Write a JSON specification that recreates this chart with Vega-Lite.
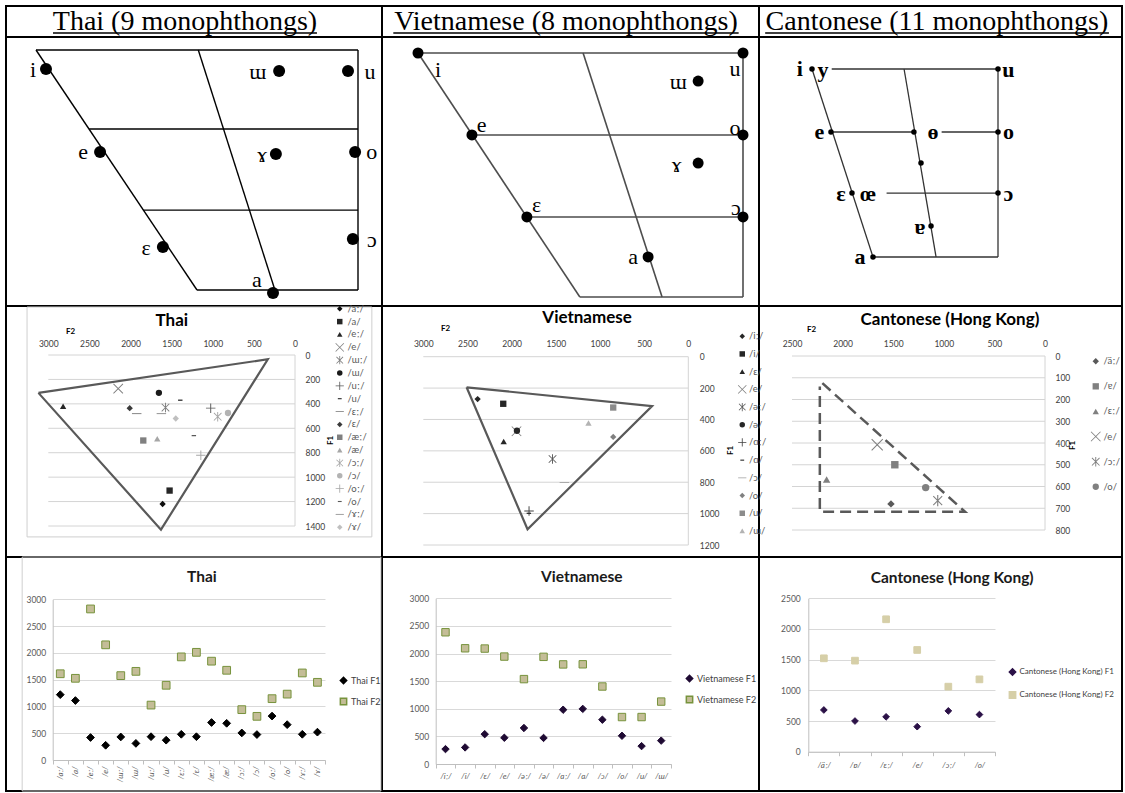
{
  "$schema": "https://vega.github.io/schema/vega-lite/v6.json",
  "width": 1125,
  "height": 793,
  "autosize": "none",
  "padding": 0,
  "background": "white",
  "config": {
    "view": {"stroke": null},
    "axis": {"labelFont": "Lato, Noto Sans, sans-serif", "titleFont": "Lato, Noto Sans, sans-serif"},
    "legend": {"labelFont": "Lato, Noto Sans, sans-serif"}
  },
  "datasets": {
    "rules": [
      {"x0": 0, "x1": 0, "y0": 0, "y1": 4},
      {"x0": 1, "x1": 1, "y0": 0, "y1": 4},
      {"x0": 2, "x1": 2, "y0": 0, "y1": 4},
      {"x0": 3, "x1": 3, "y0": 0, "y1": 4},
      {"x0": 0, "x1": 3, "y0": 0, "y1": 0},
      {"x0": 0, "x1": 3, "y0": 1, "y1": 1},
      {"x0": 0, "x1": 3, "y0": 2, "y1": 2},
      {"x0": 0, "x1": 3, "y0": 3, "y1": 3},
      {"x0": 0, "x1": 3, "y0": 4, "y1": 4}
    ],
    "frames": [
      {"x0": 0.056, "x1": 0.973, "y0": 2.004, "y1": 2.92},
      {"x0": 0.043, "x1": 0.997, "y0": 3.0, "y1": 4.0}
    ],
    "heads": [
      {"t": "Thai (9 monophthongs)", "c": 0.476, "r": 0.774, "u0": 0.125, "u1": 0.827, "ru": 0.871},
      {"t": "Vietnamese (8 monophthongs)", "c": 1.488, "r": 0.774, "u0": 1.03, "u1": 1.946, "ru": 0.871},
      {"t": "Cantonese (11 monophthongs)", "c": 2.49, "r": 0.774, "u0": 2.017, "u1": 2.964, "ru": 0.871}
    ],
    "captions": [
      {"t": "Thai", "c": 0.441, "r": 2.06, "k": "a"},
      {"t": "Vietnamese", "c": 1.544, "r": 2.048, "k": "a"},
      {"t": "Cantonese (Hong Kong)", "c": 2.526, "r": 2.056, "k": "a"},
      {"t": "Thai", "c": 0.521, "r": 3.085, "k": "b"},
      {"t": "Vietnamese", "c": 1.53, "r": 3.085, "k": "b"},
      {"t": "Cantonese (Hong Kong)", "c": 2.532, "r": 3.09, "k": "b"}
    ],
    "thaiLines": [
      {"x0": 0, "y0": 0, "x1": 100, "y1": 0},
      {"x0": 100, "y0": 0, "x1": 100, "y1": 100},
      {"x0": 50, "y0": 100, "x1": 100, "y1": 100},
      {"x0": 0, "y0": 0, "x1": 50, "y1": 100},
      {"x0": 50.4, "y0": 0, "x1": 74.2, "y1": 100},
      {"x0": 16.5, "y0": 32.9, "x1": 100, "y1": 32.9},
      {"x0": 33.3, "y0": 66.7, "x1": 100, "y1": 66.7}
    ],
    "thaiV": [
      {"v": "i", "x": 3.1, "y": 7.9, "lx": -0.9, "ly": 8.3},
      {"v": "ɯ", "x": 75.5, "y": 8.75, "lx": 68.9, "ly": 9.2},
      {"v": "u", "x": 96.9, "y": 8.75, "lx": 103.7, "ly": 9.2},
      {"v": "e", "x": 19.9, "y": 42.5, "lx": 14.6, "ly": 42.5},
      {"v": "ɤ", "x": 74.5, "y": 43.3, "lx": 70.2, "ly": 43.75},
      {"v": "o", "x": 99.1, "y": 42.5, "lx": 104.3, "ly": 42.5},
      {"v": "ɛ", "x": 39.4, "y": 82.1, "lx": 34.2, "ly": 82.5},
      {"v": "ɔ", "x": 98.4, "y": 78.75, "lx": 104.3, "ly": 79.2},
      {"v": "a", "x": 73.6, "y": 101.25, "lx": 68.6, "ly": 95.8}
    ],
    "vietLines": [
      {"x0": 0, "y0": 0, "x1": 100, "y1": 0},
      {"x0": 100, "y0": 0, "x1": 100, "y1": 100},
      {"x0": 49.8, "y0": 100, "x1": 100, "y1": 100},
      {"x0": 0, "y0": 0, "x1": 49.8, "y1": 100},
      {"x0": 50.8, "y0": 0, "x1": 75.1, "y1": 100},
      {"x0": 16.6, "y0": 33.6, "x1": 100, "y1": 33.6},
      {"x0": 33.5, "y0": 67.2, "x1": 100, "y1": 67.2}
    ],
    "vietV": [
      {"v": "i", "x": 0, "y": 0, "lx": 6.2, "ly": 7.0},
      {"v": "u", "x": 100, "y": 0, "lx": 97.5, "ly": 6.6},
      {"v": "ɯ", "x": 86.2, "y": 11.5, "lx": 80.1, "ly": 11.8},
      {"v": "e", "x": 16.6, "y": 33.6, "lx": 19.6, "ly": 29.5},
      {"v": "o", "x": 100, "y": 33.6, "lx": 97.5, "ly": 30.7},
      {"v": "ɤ", "x": 86.2, "y": 45.1, "lx": 79.6, "ly": 45.9},
      {"v": "ɛ", "x": 33.5, "y": 67.2, "lx": 36.5, "ly": 62.3},
      {"v": "ɔ", "x": 100, "y": 67.2, "lx": 97.8, "ly": 63.5},
      {"v": "a", "x": 70.8, "y": 83.6, "lx": 66.2, "ly": 83.7}
    ],
    "cantLines": [
      {"x0": 10.6, "y0": 0, "x1": 100, "y1": 0},
      {"x0": 100, "y0": 0, "x1": 100, "y1": 100},
      {"x0": 32.8, "y0": 100, "x1": 100, "y1": 100},
      {"x0": 0, "y0": 0, "x1": 32.8, "y1": 100},
      {"x0": 49.5, "y0": 0, "x1": 66.7, "y1": 100},
      {"x0": 10.2, "y0": 33.5, "x1": 54.8, "y1": 33.5},
      {"x0": 69.7, "y0": 33.5, "x1": 100, "y1": 33.5},
      {"x0": 40.1, "y0": 66, "x1": 100, "y1": 66}
    ],
    "cantV": [
      {"v": "i", "x": 0, "y": 0, "lx": -6.5, "ly": 0},
      {"v": "y", "x": null, "y": null, "lx": 5.9, "ly": 0.5},
      {"v": "u", "x": 100, "y": 0, "lx": 105.6, "ly": 0.5},
      {"v": "e", "x": 10.2, "y": 33.5, "lx": 3.9, "ly": 33.5},
      {"v": "ɵ", "x": 54.8, "y": 33.5, "lx": 65, "ly": 33.5},
      {"v": "o", "x": 100, "y": 33.5, "lx": 105.6, "ly": 33.5},
      {"v": "", "x": 58.6, "y": 50, "lx": 58.6, "ly": 50},
      {"v": "ɛ", "x": 21.5, "y": 66, "lx": 15.6, "ly": 66.5},
      {"v": "œ", "x": null, "y": null, "lx": 30.1, "ly": 66.5},
      {"v": "ɔ", "x": 100, "y": 66, "lx": 105.6, "ly": 66.5},
      {"v": "ɐ", "x": 64, "y": 83.5, "lx": 58.1, "ly": 84},
      {"v": "a", "x": 32.8, "y": 100, "lx": 25.8, "ly": 100}
    ],
    "thai": [
      {"v": "/aː/", "F1": 1220, "F2": 1610},
      {"v": "/a/", "F1": 1110, "F2": 1525},
      {"v": "/eː/", "F1": 420, "F2": 2820},
      {"v": "/e/", "F1": 275, "F2": 2150},
      {"v": "/ɯː/", "F1": 430, "F2": 1575},
      {"v": "/ɯ/", "F1": 310, "F2": 1655},
      {"v": "/uː/", "F1": 435, "F2": 1025},
      {"v": "/u/", "F1": 370, "F2": 1395},
      {"v": "/ɛː/", "F1": 480, "F2": 1925},
      {"v": "/ɛ/", "F1": 435, "F2": 2010},
      {"v": "/æː/", "F1": 700, "F2": 1845},
      {"v": "/æ/", "F1": 685, "F2": 1675},
      {"v": "/ɔː/", "F1": 505, "F2": 940},
      {"v": "/ɔ/", "F1": 475, "F2": 815},
      {"v": "/oː/", "F1": 820, "F2": 1145},
      {"v": "/o/", "F1": 660, "F2": 1230},
      {"v": "/ɤː/", "F1": 480, "F2": 1625},
      {"v": "/ɤ/", "F1": 520, "F2": 1450}
    ],
    "viet": [
      {"v": "/iː/", "F1": 270, "F2": 2385},
      {"v": "/i/", "F1": 300, "F2": 2095},
      {"v": "/ɛ/", "F1": 540, "F2": 2090},
      {"v": "/e/", "F1": 475, "F2": 1945},
      {"v": "/əː/", "F1": 652, "F2": 1537},
      {"v": "/ə/", "F1": 472, "F2": 1940},
      {"v": "/ɑː/", "F1": 983, "F2": 1803},
      {"v": "/ɑ/", "F1": 998, "F2": 1805},
      {"v": "/ɔ/", "F1": 802, "F2": 1403},
      {"v": "/o/", "F1": 511, "F2": 850},
      {"v": "/u/", "F1": 324, "F2": 850},
      {"v": "/ɯ/", "F1": 423, "F2": 1130}
    ],
    "cant": [
      {"v": "/äː/", "F1": 680, "F2": 1522},
      {"v": "/ɐ/", "F1": 500, "F2": 1484},
      {"v": "/ɛː/", "F1": 568, "F2": 2158},
      {"v": "/e/", "F1": 408, "F2": 1658},
      {"v": "/ɔː/", "F1": 665, "F2": 1060},
      {"v": "/o/", "F1": 605, "F2": 1179}
    ],
    "thaiTri": [
      {"i": 0, "F2": 3120, "F1": 310},
      {"i": 1, "F2": 330, "F1": 35},
      {"i": 2, "F2": 1630, "F1": 1430},
      {"i": 3, "F2": 3120, "F1": 310}
    ],
    "vietTri": [
      {"i": 0, "F2": 2510, "F1": 195},
      {"i": 1, "F2": 410, "F1": 315},
      {"i": 2, "F2": 1820, "F1": 1100},
      {"i": 3, "F2": 2510, "F1": 195}
    ],
    "cantTri": [
      {"i": 0, "F2": 2200, "F1": 125},
      {"i": 1, "F2": 790, "F1": 716},
      {"i": 2, "F2": 2225, "F1": 716},
      {"i": 3, "F2": 2225, "F1": 140}
    ],
    "thaiGrid": [
      {"f2a": 3000, "f2b": 0, "f1a": 0, "f1b": 0},
      {"f2a": 3000, "f2b": 0, "f1a": 200, "f1b": 200},
      {"f2a": 3000, "f2b": 0, "f1a": 400, "f1b": 400},
      {"f2a": 3000, "f2b": 0, "f1a": 600, "f1b": 600},
      {"f2a": 3000, "f2b": 0, "f1a": 800, "f1b": 800},
      {"f2a": 3000, "f2b": 0, "f1a": 1000, "f1b": 1000},
      {"f2a": 3000, "f2b": 0, "f1a": 1200, "f1b": 1200},
      {"f2a": 3000, "f2b": 0, "f1a": 1400, "f1b": 1400},
      {"f2a": 0, "f2b": 0, "f1a": 0, "f1b": 1400}
    ],
    "vietGrid": [
      {"f2a": 3000, "f2b": 0, "f1a": 0, "f1b": 0},
      {"f2a": 3000, "f2b": 0, "f1a": 200, "f1b": 200},
      {"f2a": 3000, "f2b": 0, "f1a": 400, "f1b": 400},
      {"f2a": 3000, "f2b": 0, "f1a": 600, "f1b": 600},
      {"f2a": 3000, "f2b": 0, "f1a": 800, "f1b": 800},
      {"f2a": 3000, "f2b": 0, "f1a": 1000, "f1b": 1000},
      {"f2a": 3000, "f2b": 0, "f1a": 1200, "f1b": 1200},
      {"f2a": 0, "f2b": 0, "f1a": 0, "f1b": 1200}
    ],
    "cantGrid": [
      {"f2a": 2500, "f2b": 0, "f1a": 0, "f1b": 0},
      {"f2a": 2500, "f2b": 0, "f1a": 100, "f1b": 100},
      {"f2a": 2500, "f2b": 0, "f1a": 200, "f1b": 200},
      {"f2a": 2500, "f2b": 0, "f1a": 300, "f1b": 300},
      {"f2a": 2500, "f2b": 0, "f1a": 400, "f1b": 400},
      {"f2a": 2500, "f2b": 0, "f1a": 500, "f1b": 500},
      {"f2a": 2500, "f2b": 0, "f1a": 600, "f1b": 600},
      {"f2a": 2500, "f2b": 0, "f1a": 700, "f1b": 700},
      {"f2a": 2500, "f2b": 0, "f1a": 800, "f1b": 800},
      {"f2a": 0, "f2b": 0, "f1a": 0, "f1b": 800}
    ]
  },
  "layer": [
    {
      "data": {"name": "rules"},
      "mark": {"type": "rule", "stroke": "#000000", "strokeWidth": 2, "strokeCap": "square"},
      "encoding": {
        "x": {"field": "x0", "type": "quantitative", "scale": {"domain": [0, 1, 2, 3], "range": [6, 382, 759, 1122], "nice": false, "zero": false}, "axis": null},
        "x2": {"field": "x1"},
        "y": {"field": "y0", "type": "quantitative", "scale": {"domain": [0, 1, 2, 3, 4], "range": [6, 37, 306, 557, 791], "nice": false, "zero": false}, "axis": null},
        "y2": {"field": "y1"}
      }
    },
    {
      "data": {"name": "frames"},
      "mark": {"type": "rect", "fill": null, "fillOpacity": 0, "stroke": "#cfcfcf", "strokeWidth": 1},
      "encoding": {
        "x": {"field": "x0", "type": "quantitative", "scale": {"domain": [0, 1, 2, 3], "range": [6, 382, 759, 1122], "nice": false, "zero": false}, "axis": null},
        "x2": {"field": "x1"},
        "y": {"field": "y0", "type": "quantitative", "scale": {"domain": [0, 1, 2, 3, 4], "range": [6, 37, 306, 557, 791], "nice": false, "zero": false}, "axis": null},
        "y2": {"field": "y1"}
      }
    },
    {
      "data": {"name": "heads"},
      "mark": {"type": "text", "font": "Liberation Serif, DejaVu Serif, serif", "fontSize": 28, "align": "center", "baseline": "alphabetic", "color": "#000000"},
      "encoding": {
        "x": {"field": "c", "type": "quantitative", "scale": {"domain": [0, 1, 2, 3], "range": [6, 382, 759, 1122], "nice": false, "zero": false}, "axis": null},
        "y": {"field": "r", "type": "quantitative", "scale": {"domain": [0, 1, 2, 3, 4], "range": [6, 37, 306, 557, 791], "nice": false, "zero": false}, "axis": null},
        "text": {"field": "t"}
      }
    },
    {
      "data": {"name": "heads"},
      "mark": {"type": "rule", "stroke": "#000000", "strokeWidth": 1.3},
      "encoding": {
        "x": {"field": "u0", "type": "quantitative", "scale": {"domain": [0, 1, 2, 3], "range": [6, 382, 759, 1122], "nice": false, "zero": false}, "axis": null},
        "x2": {"field": "u1"},
        "y": {"field": "ru", "type": "quantitative", "scale": {"domain": [0, 1, 2, 3, 4], "range": [6, 37, 306, 557, 791], "nice": false, "zero": false}, "axis": null}
      }
    },
    {
      "data": {"name": "captions"},
      "transform": [{"filter": "datum.k == 'a'"}],
      "mark": {"type": "text", "font": "Lato, Noto Sans, sans-serif", "fontSize": 17, "fontWeight": "bold", "color": "#000000", "baseline": "middle", "align": "center"},
      "encoding": {
        "x": {"field": "c", "type": "quantitative", "scale": {"domain": [0, 1, 2, 3], "range": [6, 382, 759, 1122], "nice": false, "zero": false}, "axis": null},
        "y": {"field": "r", "type": "quantitative", "scale": {"domain": [0, 1, 2, 3, 4], "range": [6, 37, 306, 557, 791], "nice": false, "zero": false}, "axis": null},
        "text": {"field": "t"}
      }
    },
    {
      "data": {"name": "captions"},
      "transform": [{"filter": "datum.k == 'b'"}],
      "mark": {"type": "text", "font": "Lato, Noto Sans, sans-serif", "fontSize": 15.5, "fontWeight": "bold", "color": "#1a1a1a", "baseline": "middle", "align": "center"},
      "encoding": {
        "x": {"field": "c", "type": "quantitative", "scale": {"domain": [0, 1, 2, 3], "range": [6, 382, 759, 1122], "nice": false, "zero": false}, "axis": null},
        "y": {"field": "r", "type": "quantitative", "scale": {"domain": [0, 1, 2, 3, 4], "range": [6, 37, 306, 557, 791], "nice": false, "zero": false}, "axis": null},
        "text": {"field": "t"}
      }
    },
    {
      "data": {"name": "thaiLines"},
      "mark": {"type": "rule", "stroke": "#000000", "strokeWidth": 1.4},
      "encoding": {
        "x": {"field": "x0", "type": "quantitative", "scale": {"domain": [0, 100], "range": [36, 358], "nice": false, "zero": false}, "axis": null},
        "x2": {"field": "x1"},
        "y": {"field": "y0", "type": "quantitative", "scale": {"domain": [0, 100], "range": [50, 290], "nice": false, "zero": false}, "axis": null},
        "y2": {"field": "y1"}
      }
    },
    {
      "data": {"name": "thaiV"},
      "mark": {"type": "circle", "color": "#000000", "opacity": 1, "size": 144},
      "encoding": {
        "x": {"field": "x", "type": "quantitative", "scale": {"domain": [0, 100], "range": [36, 358], "nice": false, "zero": false}, "axis": null},
        "y": {"field": "y", "type": "quantitative", "scale": {"domain": [0, 100], "range": [50, 290], "nice": false, "zero": false}, "axis": null}
      }
    },
    {
      "data": {"name": "thaiV"},
      "mark": {"type": "text", "font": "Liberation Serif, DejaVu Serif, serif", "fontSize": 22, "align": "center", "baseline": "middle", "color": "#000000"},
      "encoding": {
        "x": {"field": "lx", "type": "quantitative", "scale": {"domain": [0, 100], "range": [36, 358], "nice": false, "zero": false}, "axis": null},
        "y": {"field": "ly", "type": "quantitative", "scale": {"domain": [0, 100], "range": [50, 290], "nice": false, "zero": false}, "axis": null},
        "text": {"field": "v"}
      }
    },
    {
      "data": {"name": "vietLines"},
      "mark": {"type": "rule", "stroke": "#4d4d4d", "strokeWidth": 1.6},
      "encoding": {
        "x": {"field": "x0", "type": "quantitative", "scale": {"domain": [0, 100], "range": [418, 743], "nice": false, "zero": false}, "axis": null},
        "x2": {"field": "x1"},
        "y": {"field": "y0", "type": "quantitative", "scale": {"domain": [0, 100], "range": [53, 297], "nice": false, "zero": false}, "axis": null},
        "y2": {"field": "y1"}
      }
    },
    {
      "data": {"name": "vietV"},
      "mark": {"type": "circle", "color": "#000000", "opacity": 1, "size": 121},
      "encoding": {
        "x": {"field": "x", "type": "quantitative", "scale": {"domain": [0, 100], "range": [418, 743], "nice": false, "zero": false}, "axis": null},
        "y": {"field": "y", "type": "quantitative", "scale": {"domain": [0, 100], "range": [53, 297], "nice": false, "zero": false}, "axis": null}
      }
    },
    {
      "data": {"name": "vietV"},
      "mark": {"type": "text", "font": "Liberation Serif, DejaVu Serif, serif", "fontSize": 22, "align": "center", "baseline": "middle", "color": "#000000"},
      "encoding": {
        "x": {"field": "lx", "type": "quantitative", "scale": {"domain": [0, 100], "range": [418, 743], "nice": false, "zero": false}, "axis": null},
        "y": {"field": "ly", "type": "quantitative", "scale": {"domain": [0, 100], "range": [53, 297], "nice": false, "zero": false}, "axis": null},
        "text": {"field": "v"}
      }
    },
    {
      "data": {"name": "cantLines"},
      "mark": {"type": "rule", "stroke": "#333333", "strokeWidth": 1.3},
      "encoding": {
        "x": {"field": "x0", "type": "quantitative", "scale": {"domain": [0, 100], "range": [812, 998], "nice": false, "zero": false}, "axis": null},
        "x2": {"field": "x1"},
        "y": {"field": "y0", "type": "quantitative", "scale": {"domain": [0, 100], "range": [69, 257], "nice": false, "zero": false}, "axis": null},
        "y2": {"field": "y1"}
      }
    },
    {
      "data": {"name": "cantV"},
      "mark": {"type": "circle", "color": "#000000", "opacity": 1, "size": 30},
      "encoding": {
        "x": {"field": "x", "type": "quantitative", "scale": {"domain": [0, 100], "range": [812, 998], "nice": false, "zero": false}, "axis": null},
        "y": {"field": "y", "type": "quantitative", "scale": {"domain": [0, 100], "range": [69, 257], "nice": false, "zero": false}, "axis": null}
      }
    },
    {
      "data": {"name": "cantV"},
      "mark": {"type": "text", "font": "Liberation Serif, DejaVu Serif, serif", "fontSize": 22, "fontWeight": "bold", "align": "center", "baseline": "middle", "color": "#000000"},
      "encoding": {
        "x": {"field": "lx", "type": "quantitative", "scale": {"domain": [0, 100], "range": [812, 998], "nice": false, "zero": false}, "axis": null},
        "y": {"field": "ly", "type": "quantitative", "scale": {"domain": [0, 100], "range": [69, 257], "nice": false, "zero": false}, "axis": null},
        "text": {"field": "v"}
      }
    },
    {
      "data": {"name": "thaiGrid"},
      "mark": {"type": "rule", "stroke": "#d4d4d4", "strokeWidth": 1},
      "encoding": {
        "x": {"field": "f2a", "type": "quantitative", "scale": {"domain": [0, 3000], "reverse": true, "range": [48.3, 295], "nice": false, "zero": false}, "axis": null},
        "x2": {"field": "f2b"},
        "y": {"field": "f1a", "type": "quantitative", "scale": {"domain": [0, 1400], "range": [355, 526], "nice": false, "zero": false}, "axis": null},
        "y2": {"field": "f1b"}
      }
    },
    {
      "data": {"name": "thaiTri"},
      "mark": {"type": "line", "stroke": "#595959", "strokeWidth": 2.2},
      "encoding": {
        "x": {"field": "F2", "type": "quantitative", "scale": {"domain": [0, 3000], "reverse": true, "range": [48.3, 295], "nice": false, "zero": false},
          "axis": {"orient": "top", "offset": -355, "values": [3000, 2500, 2000, 1500, 1000, 500, 0], "format": "d", "grid": false, "domain": false, "ticks": false, "tickSize": 0, "labelFontSize": 8.5, "labelColor": "#404040", "labelPadding": 7, "labelFlush": false, "labelOverlap": false, "title": "F2", "titleX": 70, "titleY": -24, "titleFontSize": 8, "titleFontWeight": "bold", "titleAlign": "center", "titleBaseline": "middle", "titleAngle": 0, "titleColor": "#000000"}},
        "y": {"field": "F1", "type": "quantitative", "scale": {"domain": [0, 1400], "range": [355, 526], "nice": false, "zero": false},
          "axis": {"orient": "left", "offset": -295, "values": [0, 200, 400, 600, 800, 1000, 1200, 1400], "format": "d", "grid": false, "domain": false, "ticks": false, "tickSize": 0, "labelAlign": "left", "labelBaseline": "middle", "labelPadding": -10, "labelFontSize": 8.5, "labelColor": "#404040", "labelFlush": false, "labelOverlap": false, "title": "F1", "titleX": 35, "titleY": 440, "titleAngle": 270, "titleFontSize": 8, "titleFontWeight": "bold", "titleAlign": "center", "titleBaseline": "middle", "titleColor": "#000000"}},
        "order": {"field": "i", "type": "quantitative"}
      }
    },
    {
      "data": {"name": "thai"},
      "mark": {"type": "point", "filled": true, "opacity": 1, "size": 40},
      "encoding": {
        "x": {"field": "F2", "type": "quantitative", "scale": {"domain": [0, 3000], "reverse": true, "range": [48.3, 295], "nice": false, "zero": false}, "axis": null},
        "y": {"field": "F1", "type": "quantitative", "scale": {"domain": [0, 1400], "range": [355, 526], "nice": false, "zero": false}, "axis": null},
        "color": {"field": "v", "type": "nominal",
          "scale": {"domain": ["/aː/", "/a/", "/eː/", "/e/", "/ɯː/", "/ɯ/", "/uː/", "/u/", "/ɛː/", "/ɛ/", "/æː/", "/æ/", "/ɔː/", "/ɔ/", "/oː/", "/o/", "/ɤː/", "/ɤ/"],
            "range": ["#0d0d0d", "#262626", "#262626", "#7f7f7f", "#7f7f7f", "#1a1a1a", "#595959", "#262626", "#7f7f7f", "#3a3a3a", "#808080", "#a6a6a6", "#a6a6a6", "#b3b3b3", "#a6a6a6", "#595959", "#8c8c8c", "#bfbfbf"]},
          "legend": {"orient": "none", "legendX": 335, "legendY": 304, "title": null, "labelFontSize": 9.5, "labelColor": "#595959", "symbolSize": 30, "rowPadding": 1.85, "padding": 0, "labelOffset": 3}},
        "shape": {"field": "v", "type": "nominal",
          "scale": {"domain": ["/aː/", "/a/", "/eː/", "/e/", "/ɯː/", "/ɯ/", "/uː/", "/u/", "/ɛː/", "/ɛ/", "/æː/", "/æ/", "/ɔː/", "/ɔ/", "/oː/", "/o/", "/ɤː/", "/ɤ/"],
            "range": ["diamond", "square", "triangle-up",
              "M-1.6,-1.4L-1.4,-1.6L1.6,1.4L1.4,1.6Z M1.4,-1.6L1.6,-1.4L-1.4,1.6L-1.6,1.4Z",
              "M-1.3,-1.1L-1.1,-1.3L1.3,1.1L1.1,1.3Z M1.1,-1.3L1.3,-1.1L-1.1,1.3L-1.3,1.1Z M-0.15,-1.5L0.15,-1.5L0.15,1.5L-0.15,1.5Z",
              "circle",
              "M-1.5,-0.15L1.5,-0.15L1.5,0.15L-1.5,0.15Z M-0.15,-1.5L0.15,-1.5L0.15,1.5L-0.15,1.5Z",
              "M-0.7,-0.2L0.7,-0.2L0.7,0.2L-0.7,0.2Z",
              "M-1.5,-0.15L1.5,-0.15L1.5,0.15L-1.5,0.15Z",
              "diamond", "square", "triangle-up",
              "M-1.3,-1.1L-1.1,-1.3L1.3,1.1L1.1,1.3Z M1.1,-1.3L1.3,-1.1L-1.1,1.3L-1.3,1.1Z M-0.15,-1.5L0.15,-1.5L0.15,1.5L-0.15,1.5Z",
              "circle",
              "M-1.5,-0.15L1.5,-0.15L1.5,0.15L-1.5,0.15Z M-0.15,-1.5L0.15,-1.5L0.15,1.5L-0.15,1.5Z",
              "M-0.7,-0.2L0.7,-0.2L0.7,0.2L-0.7,0.2Z",
              "M-1.5,-0.15L1.5,-0.15L1.5,0.15L-1.5,0.15Z",
              "diamond"]},
          "legend": {"orient": "none", "legendX": 335, "legendY": 304, "title": null, "labelFontSize": 9.5, "labelColor": "#595959", "symbolSize": 30, "rowPadding": 1.85, "padding": 0, "labelOffset": 3}}
      }
    },
    {
      "data": {"name": "vietGrid"},
      "mark": {"type": "rule", "stroke": "#d4d4d4", "strokeWidth": 1},
      "encoding": {
        "x": {"field": "f2a", "type": "quantitative", "scale": {"domain": [0, 3000], "reverse": true, "range": [423.3, 688.3], "nice": false, "zero": false}, "axis": null},
        "x2": {"field": "f2b"},
        "y": {"field": "f1a", "type": "quantitative", "scale": {"domain": [0, 1200], "range": [356.7, 545], "nice": false, "zero": false}, "axis": null},
        "y2": {"field": "f1b"}
      }
    },
    {
      "data": {"name": "vietTri"},
      "mark": {"type": "line", "stroke": "#595959", "strokeWidth": 2.2},
      "encoding": {
        "x": {"field": "F2", "type": "quantitative", "scale": {"domain": [0, 3000], "reverse": true, "range": [423.3, 688.3], "nice": false, "zero": false},
          "axis": {"orient": "top", "offset": -356.7, "values": [3000, 2500, 2000, 1500, 1000, 500, 0], "format": "d", "grid": false, "domain": false, "ticks": false, "tickSize": 0, "labelFontSize": 8.5, "labelColor": "#404040", "labelPadding": 8, "labelFlush": false, "labelOverlap": false, "title": "F2", "titleX": 445, "titleY": -28.7, "titleFontSize": 8, "titleFontWeight": "bold", "titleAlign": "center", "titleBaseline": "middle", "titleAngle": 0, "titleColor": "#000000"}},
        "y": {"field": "F1", "type": "quantitative", "scale": {"domain": [0, 1200], "range": [356.7, 545], "nice": false, "zero": false},
          "axis": {"orient": "left", "offset": -688.3, "values": [0, 200, 400, 600, 800, 1000, 1200], "format": "d", "grid": false, "domain": false, "ticks": false, "tickSize": 0, "labelAlign": "left", "labelBaseline": "middle", "labelPadding": -11, "labelFontSize": 8.5, "labelColor": "#404040", "labelFlush": false, "labelOverlap": false, "title": "F1", "titleX": 41.7, "titleY": 450, "titleAngle": 270, "titleFontSize": 8, "titleFontWeight": "bold", "titleAlign": "center", "titleBaseline": "middle", "titleColor": "#000000"}},
        "order": {"field": "i", "type": "quantitative"}
      }
    },
    {
      "data": {"name": "viet"},
      "mark": {"type": "point", "filled": true, "opacity": 1, "size": 40},
      "encoding": {
        "x": {"field": "F2", "type": "quantitative", "scale": {"domain": [0, 3000], "reverse": true, "range": [423.3, 688.3], "nice": false, "zero": false}, "axis": null},
        "y": {"field": "F1", "type": "quantitative", "scale": {"domain": [0, 1200], "range": [356.7, 545], "nice": false, "zero": false}, "axis": null},
        "color": {"field": "v", "type": "nominal",
          "scale": {"domain": ["/iː/", "/i/", "/ɛ/", "/e/", "/əː/", "/ə/", "/ɑː/", "/ɑ/", "/ɔ/", "/o/", "/u/", "/ɯ/"],
            "range": ["#262626", "#262626", "#262626", "#7f7f7f", "#595959", "#262626", "#404040", "#262626", "#a6a6a6", "#808080", "#8c8c8c", "#b3b3b3"]},
          "legend": {"orient": "none", "legendX": 737.5, "legendY": 331.5, "title": null, "labelFontSize": 9.5, "labelColor": "#595959", "symbolSize": 30, "rowPadding": 6.7, "padding": 0, "labelOffset": 2}},
        "shape": {"field": "v", "type": "nominal",
          "scale": {"domain": ["/iː/", "/i/", "/ɛ/", "/e/", "/əː/", "/ə/", "/ɑː/", "/ɑ/", "/ɔ/", "/o/", "/u/", "/ɯ/"],
            "range": ["diamond", "square", "triangle-up",
              "M-1.6,-1.4L-1.4,-1.6L1.6,1.4L1.4,1.6Z M1.4,-1.6L1.6,-1.4L-1.4,1.6L-1.6,1.4Z",
              "M-1.3,-1.1L-1.1,-1.3L1.3,1.1L1.1,1.3Z M1.1,-1.3L1.3,-1.1L-1.1,1.3L-1.3,1.1Z M-0.15,-1.5L0.15,-1.5L0.15,1.5L-0.15,1.5Z",
              "circle",
              "M-1.5,-0.15L1.5,-0.15L1.5,0.15L-1.5,0.15Z M-0.15,-1.5L0.15,-1.5L0.15,1.5L-0.15,1.5Z",
              "M-0.7,-0.2L0.7,-0.2L0.7,0.2L-0.7,0.2Z",
              "M-1.5,-0.15L1.5,-0.15L1.5,0.15L-1.5,0.15Z",
              "diamond", "square", "triangle-up"]},
          "legend": {"orient": "none", "legendX": 737.5, "legendY": 331.5, "title": null, "labelFontSize": 9.5, "labelColor": "#595959", "symbolSize": 30, "rowPadding": 6.7, "padding": 0, "labelOffset": 2}}
      }
    },
    {
      "data": {"name": "cantGrid"},
      "mark": {"type": "rule", "stroke": "#d4d4d4", "strokeWidth": 1},
      "encoding": {
        "x": {"field": "f2a", "type": "quantitative", "scale": {"domain": [0, 2500], "reverse": true, "range": [792, 1045], "nice": false, "zero": false}, "axis": null},
        "x2": {"field": "f2b"},
        "y": {"field": "f1a", "type": "quantitative", "scale": {"domain": [0, 800], "range": [356, 530], "nice": false, "zero": false}, "axis": null},
        "y2": {"field": "f1b"}
      }
    },
    {
      "data": {"name": "cantTri"},
      "mark": {"type": "line", "stroke": "#595959", "strokeWidth": 2.5, "strokeDash": [11, 6]},
      "encoding": {
        "x": {"field": "F2", "type": "quantitative", "scale": {"domain": [0, 2500], "reverse": true, "range": [792, 1045], "nice": false, "zero": false},
          "axis": {"orient": "top", "offset": -356, "values": [2500, 2000, 1500, 1000, 500, 0], "format": "d", "grid": false, "domain": false, "ticks": false, "tickSize": 0, "labelFontSize": 8.5, "labelColor": "#404040", "labelPadding": 8, "labelFlush": false, "labelOverlap": false, "title": "F2", "titleX": 811, "titleY": -27, "titleFontSize": 8, "titleFontWeight": "bold", "titleAlign": "center", "titleBaseline": "middle", "titleAngle": 0, "titleColor": "#000000"}},
        "y": {"field": "F1", "type": "quantitative", "scale": {"domain": [0, 800], "range": [356, 530], "nice": false, "zero": false},
          "axis": {"orient": "left", "offset": -1045, "values": [0, 100, 200, 300, 400, 500, 600, 700, 800], "format": "d", "grid": false, "domain": false, "ticks": false, "tickSize": 0, "labelAlign": "left", "labelBaseline": "middle", "labelPadding": -10, "labelFontSize": 8.5, "labelColor": "#404040", "labelFlush": false, "labelOverlap": false, "title": "F1", "titleX": 27.5, "titleY": 445, "titleAngle": 270, "titleFontSize": 8, "titleFontWeight": "bold", "titleAlign": "center", "titleBaseline": "middle", "titleColor": "#000000"}},
        "order": {"field": "i", "type": "quantitative"}
      }
    },
    {
      "data": {"name": "cant"},
      "mark": {"type": "point", "filled": true, "opacity": 1, "size": 55},
      "encoding": {
        "x": {"field": "F2", "type": "quantitative", "scale": {"domain": [0, 2500], "reverse": true, "range": [792, 1045], "nice": false, "zero": false}, "axis": null},
        "y": {"field": "F1", "type": "quantitative", "scale": {"domain": [0, 800], "range": [356, 530], "nice": false, "zero": false}, "axis": null},
        "color": {"field": "v", "type": "nominal",
          "scale": {"domain": ["/äː/", "/ɐ/", "/ɛː/", "/e/", "/ɔː/", "/o/"],
            "range": ["#595959", "#808080", "#808080", "#808080", "#808080", "#808080"]},
          "legend": {"orient": "none", "legendX": 1091, "legendY": 356.5, "title": null, "labelFontSize": 9.5, "labelColor": "#595959", "symbolSize": 40, "rowPadding": 14.1, "padding": 0, "labelOffset": 3}},
        "shape": {"field": "v", "type": "nominal",
          "scale": {"domain": ["/äː/", "/ɐ/", "/ɛː/", "/e/", "/ɔː/", "/o/"],
            "range": ["diamond", "square", "triangle-up",
              "M-1.6,-1.4L-1.4,-1.6L1.6,1.4L1.4,1.6Z M1.4,-1.6L1.6,-1.4L-1.4,1.6L-1.6,1.4Z",
              "M-1.3,-1.1L-1.1,-1.3L1.3,1.1L1.1,1.3Z M1.1,-1.3L1.3,-1.1L-1.1,1.3L-1.3,1.1Z M-0.15,-1.5L0.15,-1.5L0.15,1.5L-0.15,1.5Z",
              "circle"]},
          "legend": {"orient": "none", "legendX": 1091, "legendY": 356.5, "title": null, "labelFontSize": 9.5, "labelColor": "#595959", "symbolSize": 40, "rowPadding": 14.1, "padding": 0, "labelOffset": 3}}
      }
    },
    {
      "data": {"name": "thai"},
      "transform": [{"fold": ["F1", "F2"], "as": ["s", "hz"]}],
      "mark": {"type": "point", "filled": true, "opacity": 1, "size": 60, "strokeWidth": 1},
      "encoding": {
        "x": {"field": "v", "type": "nominal", "sort": null,
          "scale": {"type": "band", "domain": ["/aː/", "/a/", "/eː/", "/e/", "/ɯː/", "/ɯ/", "/uː/", "/u/", "/ɛː/", "/ɛ/", "/æː/", "/æ/", "/ɔː/", "/ɔ/", "/oː/", "/o/", "/ɤː/", "/ɤ/"], "range": [52.7, 325], "paddingInner": 0, "paddingOuter": 0},
          "axis": {"orient": "bottom", "offset": -33, "labelAngle": 270, "labelFontSize": 8, "labelFontStyle": "italic", "labelColor": "#595959", "domainColor": "#bfbfbf", "tickColor": "#bfbfbf", "tickSize": 4, "tickBand": "extent", "labelPadding": 2, "grid": false, "title": null, "labelOverlap": false}},
        "y": {"field": "hz", "type": "quantitative", "scale": {"domain": [0, 3000], "range": [760, 599.3], "nice": false, "zero": false},
          "axis": {"orient": "left", "offset": -52.7, "values": [0, 500, 1000, 1500, 2000, 2500, 3000], "format": "d", "grid": true, "gridColor": "#d9d9d9", "ticks": false, "tickSize": 0, "labelPadding": 7, "labelFontSize": 8.5, "labelColor": "#595959", "domainColor": "#bfbfbf", "title": null, "labelFlush": false, "labelOverlap": false}},
        "color": {"field": "s", "type": "nominal", "scale": {"domain": ["F1", "F2"], "range": ["#000000", "#c4bd97"]},
          "legend": {"orient": "none", "legendX": 339, "legendY": 676, "title": null, "labelExpr": "'Thai ' + datum.label", "labelFontSize": 9, "labelColor": "#404040", "symbolSize": 40, "rowPadding": 8, "padding": 0, "labelOffset": 3}},
        "shape": {"field": "s", "type": "nominal", "scale": {"domain": ["F1", "F2"], "range": ["diamond", "square"]},
          "legend": {"orient": "none", "legendX": 339, "legendY": 676, "title": null, "labelExpr": "'Thai ' + datum.label", "labelFontSize": 9, "labelColor": "#404040", "symbolSize": 40, "rowPadding": 8, "padding": 0, "labelOffset": 3}},
        "stroke": {"field": "s", "type": "nominal", "scale": {"domain": ["F1", "F2"], "range": ["#000000", "#77933c"]},
          "legend": {"orient": "none", "legendX": 339, "legendY": 676, "title": null, "labelExpr": "'Thai ' + datum.label", "labelFontSize": 9, "labelColor": "#404040", "symbolSize": 40, "rowPadding": 8, "padding": 0, "labelOffset": 3}}
      }
    },
    {
      "data": {"name": "viet"},
      "transform": [{"fold": ["F1", "F2"], "as": ["s", "hz"]}],
      "mark": {"type": "point", "filled": true, "opacity": 1, "size": 55, "strokeWidth": 1},
      "encoding": {
        "x": {"field": "v", "type": "nominal", "sort": null,
          "scale": {"type": "band", "domain": ["/iː/", "/i/", "/ɛ/", "/e/", "/əː/", "/ə/", "/ɑː/", "/ɑ/", "/ɔ/", "/o/", "/u/", "/ɯ/"], "range": [435.7, 671], "paddingInner": 0, "paddingOuter": 0},
          "axis": {"orient": "bottom", "offset": -29, "labelAngle": 0, "labelFontSize": 8, "labelFontStyle": "italic", "labelColor": "#595959", "domainColor": "#bfbfbf", "tickColor": "#bfbfbf", "tickSize": 4, "tickBand": "extent", "labelPadding": 4, "grid": false, "title": null, "labelOverlap": false}},
        "y": {"field": "hz", "type": "quantitative", "scale": {"domain": [0, 3000], "range": [764, 598.3], "nice": false, "zero": false},
          "axis": {"orient": "left", "offset": -435.7, "values": [0, 500, 1000, 1500, 2000, 2500, 3000], "format": "d", "grid": true, "gridColor": "#d9d9d9", "ticks": false, "tickSize": 0, "labelPadding": 7, "labelFontSize": 8.5, "labelColor": "#595959", "domainColor": "#bfbfbf", "title": null, "labelFlush": false, "labelOverlap": false}},
        "color": {"field": "s", "type": "nominal", "scale": {"domain": ["F1", "F2"], "range": ["#1f0a33", "#c4bd97"]},
          "legend": {"orient": "none", "legendX": 685, "legendY": 674, "title": null, "labelExpr": "'Vietnamese ' + datum.label", "labelFontSize": 9, "labelColor": "#404040", "symbolSize": 40, "rowPadding": 8, "padding": 0, "labelOffset": 3}},
        "shape": {"field": "s", "type": "nominal", "scale": {"domain": ["F1", "F2"], "range": ["diamond", "square"]},
          "legend": {"orient": "none", "legendX": 685, "legendY": 674, "title": null, "labelExpr": "'Vietnamese ' + datum.label", "labelFontSize": 9, "labelColor": "#404040", "symbolSize": 40, "rowPadding": 8, "padding": 0, "labelOffset": 3}},
        "stroke": {"field": "s", "type": "nominal", "scale": {"domain": ["F1", "F2"], "range": ["#1f0a33", "#77933c"]},
          "legend": {"orient": "none", "legendX": 685, "legendY": 674, "title": null, "labelExpr": "'Vietnamese ' + datum.label", "labelFontSize": 9, "labelColor": "#404040", "symbolSize": 40, "rowPadding": 8, "padding": 0, "labelOffset": 3}}
      }
    },
    {
      "data": {"name": "cant"},
      "transform": [{"fold": ["F1", "F2"], "as": ["s", "hz"]}],
      "mark": {"type": "point", "filled": true, "opacity": 1, "size": 45, "strokeWidth": 1},
      "encoding": {
        "x": {"field": "v", "type": "nominal", "sort": null,
          "scale": {"type": "band", "domain": ["/äː/", "/ɐ/", "/ɛː/", "/e/", "/ɔː/", "/o/"], "range": [808.3, 995], "paddingInner": 0, "paddingOuter": 0},
          "axis": {"orient": "bottom", "offset": -41.3, "labelAngle": 0, "labelFontSize": 8, "labelFontStyle": "italic", "labelColor": "#595959", "domainColor": "#bfbfbf", "tickColor": "#bfbfbf", "tickSize": 4, "tickBand": "extent", "labelPadding": 6, "grid": false, "title": null, "labelOverlap": false}},
        "y": {"field": "hz", "type": "quantitative", "scale": {"domain": [0, 2500], "range": [751.7, 598.3], "nice": false, "zero": false},
          "axis": {"orient": "left", "offset": -808.3, "values": [0, 500, 1000, 1500, 2000, 2500], "format": "d", "grid": true, "gridColor": "#d9d9d9", "ticks": false, "tickSize": 0, "labelPadding": 8, "labelFontSize": 8.5, "labelColor": "#595959", "domainColor": "#bfbfbf", "title": null, "labelFlush": false, "labelOverlap": false}},
        "color": {"field": "s", "type": "nominal", "scale": {"domain": ["F1", "F2"], "range": ["#2b1147", "#d6cfa8"]},
          "legend": {"orient": "none", "legendX": 1008.5, "legendY": 668, "title": null, "labelExpr": "'Cantonese (Hong Kong) ' + datum.label", "labelFontSize": 8, "labelColor": "#404040", "symbolSize": 40, "rowPadding": 9, "padding": 0, "labelOffset": 3}},
        "shape": {"field": "s", "type": "nominal", "scale": {"domain": ["F1", "F2"], "range": ["diamond", "square"]},
          "legend": {"orient": "none", "legendX": 1008.5, "legendY": 668, "title": null, "labelExpr": "'Cantonese (Hong Kong) ' + datum.label", "labelFontSize": 8, "labelColor": "#404040", "symbolSize": 40, "rowPadding": 9, "padding": 0, "labelOffset": 3}},
        "stroke": {"field": "s", "type": "nominal", "scale": {"domain": ["F1", "F2"], "range": ["#2b1147", "#d6cfa8"]},
          "legend": {"orient": "none", "legendX": 1008.5, "legendY": 668, "title": null, "labelExpr": "'Cantonese (Hong Kong) ' + datum.label", "labelFontSize": 8, "labelColor": "#404040", "symbolSize": 40, "rowPadding": 9, "padding": 0, "labelOffset": 3}}
      }
    }
  ],
  "resolve": {
    "scale": {"x": "independent", "y": "independent", "color": "independent", "shape": "independent", "stroke": "independent"}
  }
}
